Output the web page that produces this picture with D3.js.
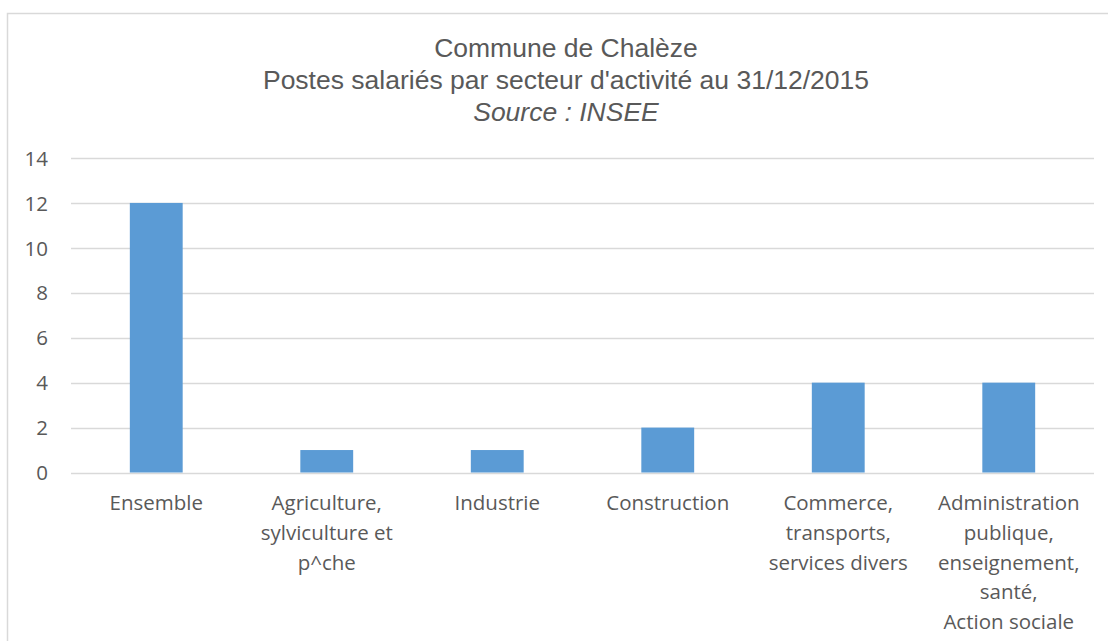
<!DOCTYPE html>
<html>
<head>
<meta charset="utf-8">
<script src="https://cdn.jsdelivr.net/npm/d3@7"></script>
<style>
  html, body { margin: 0; padding: 0; background: #fff; }
  svg { display: block; }
</style>
</head>
<body>
<svg id="chart" width="1108" height="641"></svg>
<script>
// Postes salariés par secteur d'activité, Chalèze, 31/12/2015
const categories = [
  ["Ensemble"],
  ["Agriculture,", "sylviculture et", "p^che"],
  ["Industrie"],
  ["Construction"],
  ["Commerce,", "transports,", "services divers"],
  ["Administration", "publique,", "enseignement,", "santé,", "Action sociale"]
];
const values = [12, 1, 1, 2, 4, 4];
const yTicks = [0, 2, 4, 6, 8, 10, 12, 14];
const titleLines = ["Commune de Chalèze", "Postes salariés par secteur d'activité au 31/12/2015", "Source : INSEE"];

const svg = d3.select("#chart");
const W = 1108, H = 641;
const margin = { left: 71, right: 14, top: 158, bottom: 169 };
const textColor = "#595959";

// Chart frame
svg.append("rect")
  .attr("x", 7.5).attr("y", 13.5)
  .attr("width", W + 20).attr("height", H + 20)
  .attr("fill", "none").attr("stroke", "#d9d9d9").attr("stroke-width", 1.5);

// Title
const title = svg.append("text")
  .attr("text-anchor", "middle")
  .attr("font-family", "Liberation Sans, Arial, sans-serif")
  .attr("font-size", 26.5)
  .attr("fill", textColor);
titleLines.forEach((t, i) => {
  title.append("tspan")
    .attr("x", 566).attr("y", 57 + i * 32)
    .attr("font-style", i === 2 ? "italic" : "normal")
    .text(t);
});

const x = d3.scaleBand()
  .domain(d3.range(categories.length))
  .range([margin.left, W - margin.right])
  .padding(0);

const y = d3.scaleLinear()
  .domain([0, 14])
  .range([H - margin.bottom + 0.5, margin.top]);

// Gridlines
svg.append("g")
  .selectAll("line")
  .data(yTicks)
  .join("line")
  .attr("x1", margin.left).attr("x2", W - margin.right)
  .attr("y1", d => Math.round(y(d)) + 0.5)
  .attr("y2", d => Math.round(y(d)) + 0.5)
  .attr("stroke", "#d9d9d9").attr("stroke-width", 1.5);

// Y axis labels
const yAxis = d3.axisLeft(y).tickValues(yTicks).tickSize(0).tickPadding(0);
const gy = svg.append("g")
  .attr("transform", `translate(${48},0)`)
  .call(yAxis);
gy.select(".domain").remove();
gy.selectAll("text")
  .attr("font-family", "Open Sans, sans-serif")
  .attr("font-size", 20.5)
  .attr("fill", textColor)
  .attr("dy", "0.35em");

// Bars
const barW = x.bandwidth() * 0.31;
svg.append("g")
  .selectAll("rect")
  .data(values)
  .join("rect")
  .attr("x", (d, i) => x(i) + (x.bandwidth() - barW) / 2)
  .attr("width", barW)
  .attr("y", d => y(d))
  .attr("height", d => y(0) - y(d))
  .attr("fill", "#5b9bd5");

// Category labels
const labels = svg.append("g")
  .attr("font-family", "Open Sans, sans-serif")
  .attr("font-size", 20.5)
  .attr("fill", textColor)
  .attr("text-anchor", "middle");
categories.forEach((lines, i) => {
  const t = labels.append("text");
  lines.forEach((line, j) => {
    t.append("tspan")
      .attr("x", x(i) + x.bandwidth() / 2)
      .attr("y", 510 + j * 29.8)
      .text(line);
  });
});
</script>
</body>
</html>
